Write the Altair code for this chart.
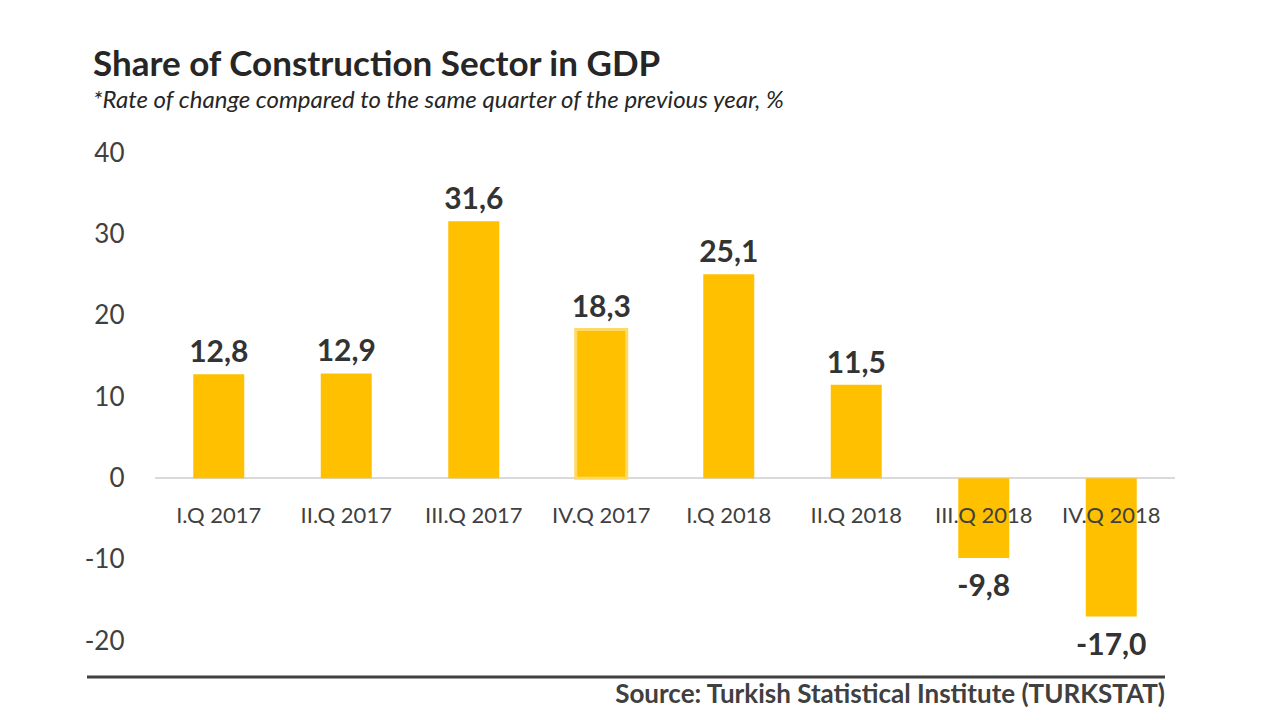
import altair as alt
import pandas as pd

quarters = ["I.Q 2017", "II.Q 2017", "III.Q 2017", "IV.Q 2017",
            "I.Q 2018", "II.Q 2018", "III.Q 2018", "IV.Q 2018"]
values = [12.8, 12.9, 31.6, 18.3, 25.1, 11.5, -9.8, -17.0]
highlight = [False, False, False, True, False, False, False, False]
y_ticks = [-20, -10, 0, 10, 20, 30, 40]

title_text = "Share of Construction Sector in GDP"
subtitle_text = "*Rate of change compared to the same quarter of the previous year, %"
source_text = "Source: Turkish Statistical Institute (TURKSTAT)"

FONT = "Lato"
W, H = 1020, 488

df = pd.DataFrame({"q": quarters, "v": values, "hl": highlight})
df["label"] = [f"{v:.1f}".replace(".", ",") for v in values]

base = alt.Chart(df)

x_enc = alt.X("q:N", sort=quarters, axis=None,
              scale=alt.Scale(paddingInner=0.6, paddingOuter=0.3))
y_scale = alt.Scale(domain=[-20, 40], nice=False)

bars = base.mark_bar(color="#FFC000").encode(
    x=x_enc,
    y=alt.Y("v:Q", scale=y_scale, title=None,
            axis=alt.Axis(values=y_ticks, grid=False, domain=False, ticks=False,
                          labelExpr="datum.value + ''",
                          labelFont=FONT, labelFontSize=26, labelColor="#404040",
                          labelPadding=31)),
    stroke=alt.condition("datum.hl", alt.value("#FFD966"), alt.value(None)),
    strokeWidth=alt.condition("datum.hl", alt.value(3), alt.value(0)),
)

zero = base.mark_rule(color="#D9D9D9", strokeWidth=1.5).encode(y=alt.datum(0))

cat_labels = base.mark_text(font=FONT, fontSize=22, color="#404040",
                            baseline="middle", dy=38).encode(
    x=x_enc, y=alt.datum(0), text="q:N")

pos_labels = base.transform_filter("datum.v >= 0").mark_text(
    font=FONT, fontSize=30, fontWeight="bold", color="#333333",
    baseline="alphabetic", dy=-12).encode(
    x=x_enc, y=alt.Y("v:Q", scale=y_scale), text="label:N")

neg_labels = base.transform_filter("datum.v < 0").mark_text(
    font=FONT, fontSize=30, fontWeight="bold", color="#333333",
    baseline="alphabetic", dy=38).encode(
    x=x_enc, y=alt.Y("v:Q", scale=y_scale), text="label:N")

one = alt.Chart(pd.DataFrame({"t": [source_text]}))
bottom_rule = one.mark_rule(color="#404040", strokeWidth=3).encode(
    x=alt.value(-68), x2=alt.value(1010), y=alt.value(524))
source = one.mark_text(font=FONT, fontSize=26, fontWeight="bold", color="#404040",
                       align="right", baseline="alphabetic").encode(
    x=alt.value(1010), y=alt.value(550), text="t:N")

chart = alt.layer(zero, bars, cat_labels, pos_labels, neg_labels,
                  bottom_rule, source).properties(
    width=W, height=H,
    autosize=alt.AutoSizeParams(type="none"),
    padding={"left": 147, "top": 145, "right": 97, "bottom": 71},
    title=alt.TitleParams(
        text=title_text, subtitle=subtitle_text, anchor="start", frame="group",
        dx=-62, offset=27, font=FONT, fontSize=35, fontWeight="bold",
        color="#262626", subtitleFont=FONT, subtitleFontSize=24,
        subtitleFontStyle="italic", subtitleColor="#262626", subtitlePadding=6),
).configure_view(stroke=None)

chart.save("out.html", embed_options={"renderer": "svg", "actions": False})
